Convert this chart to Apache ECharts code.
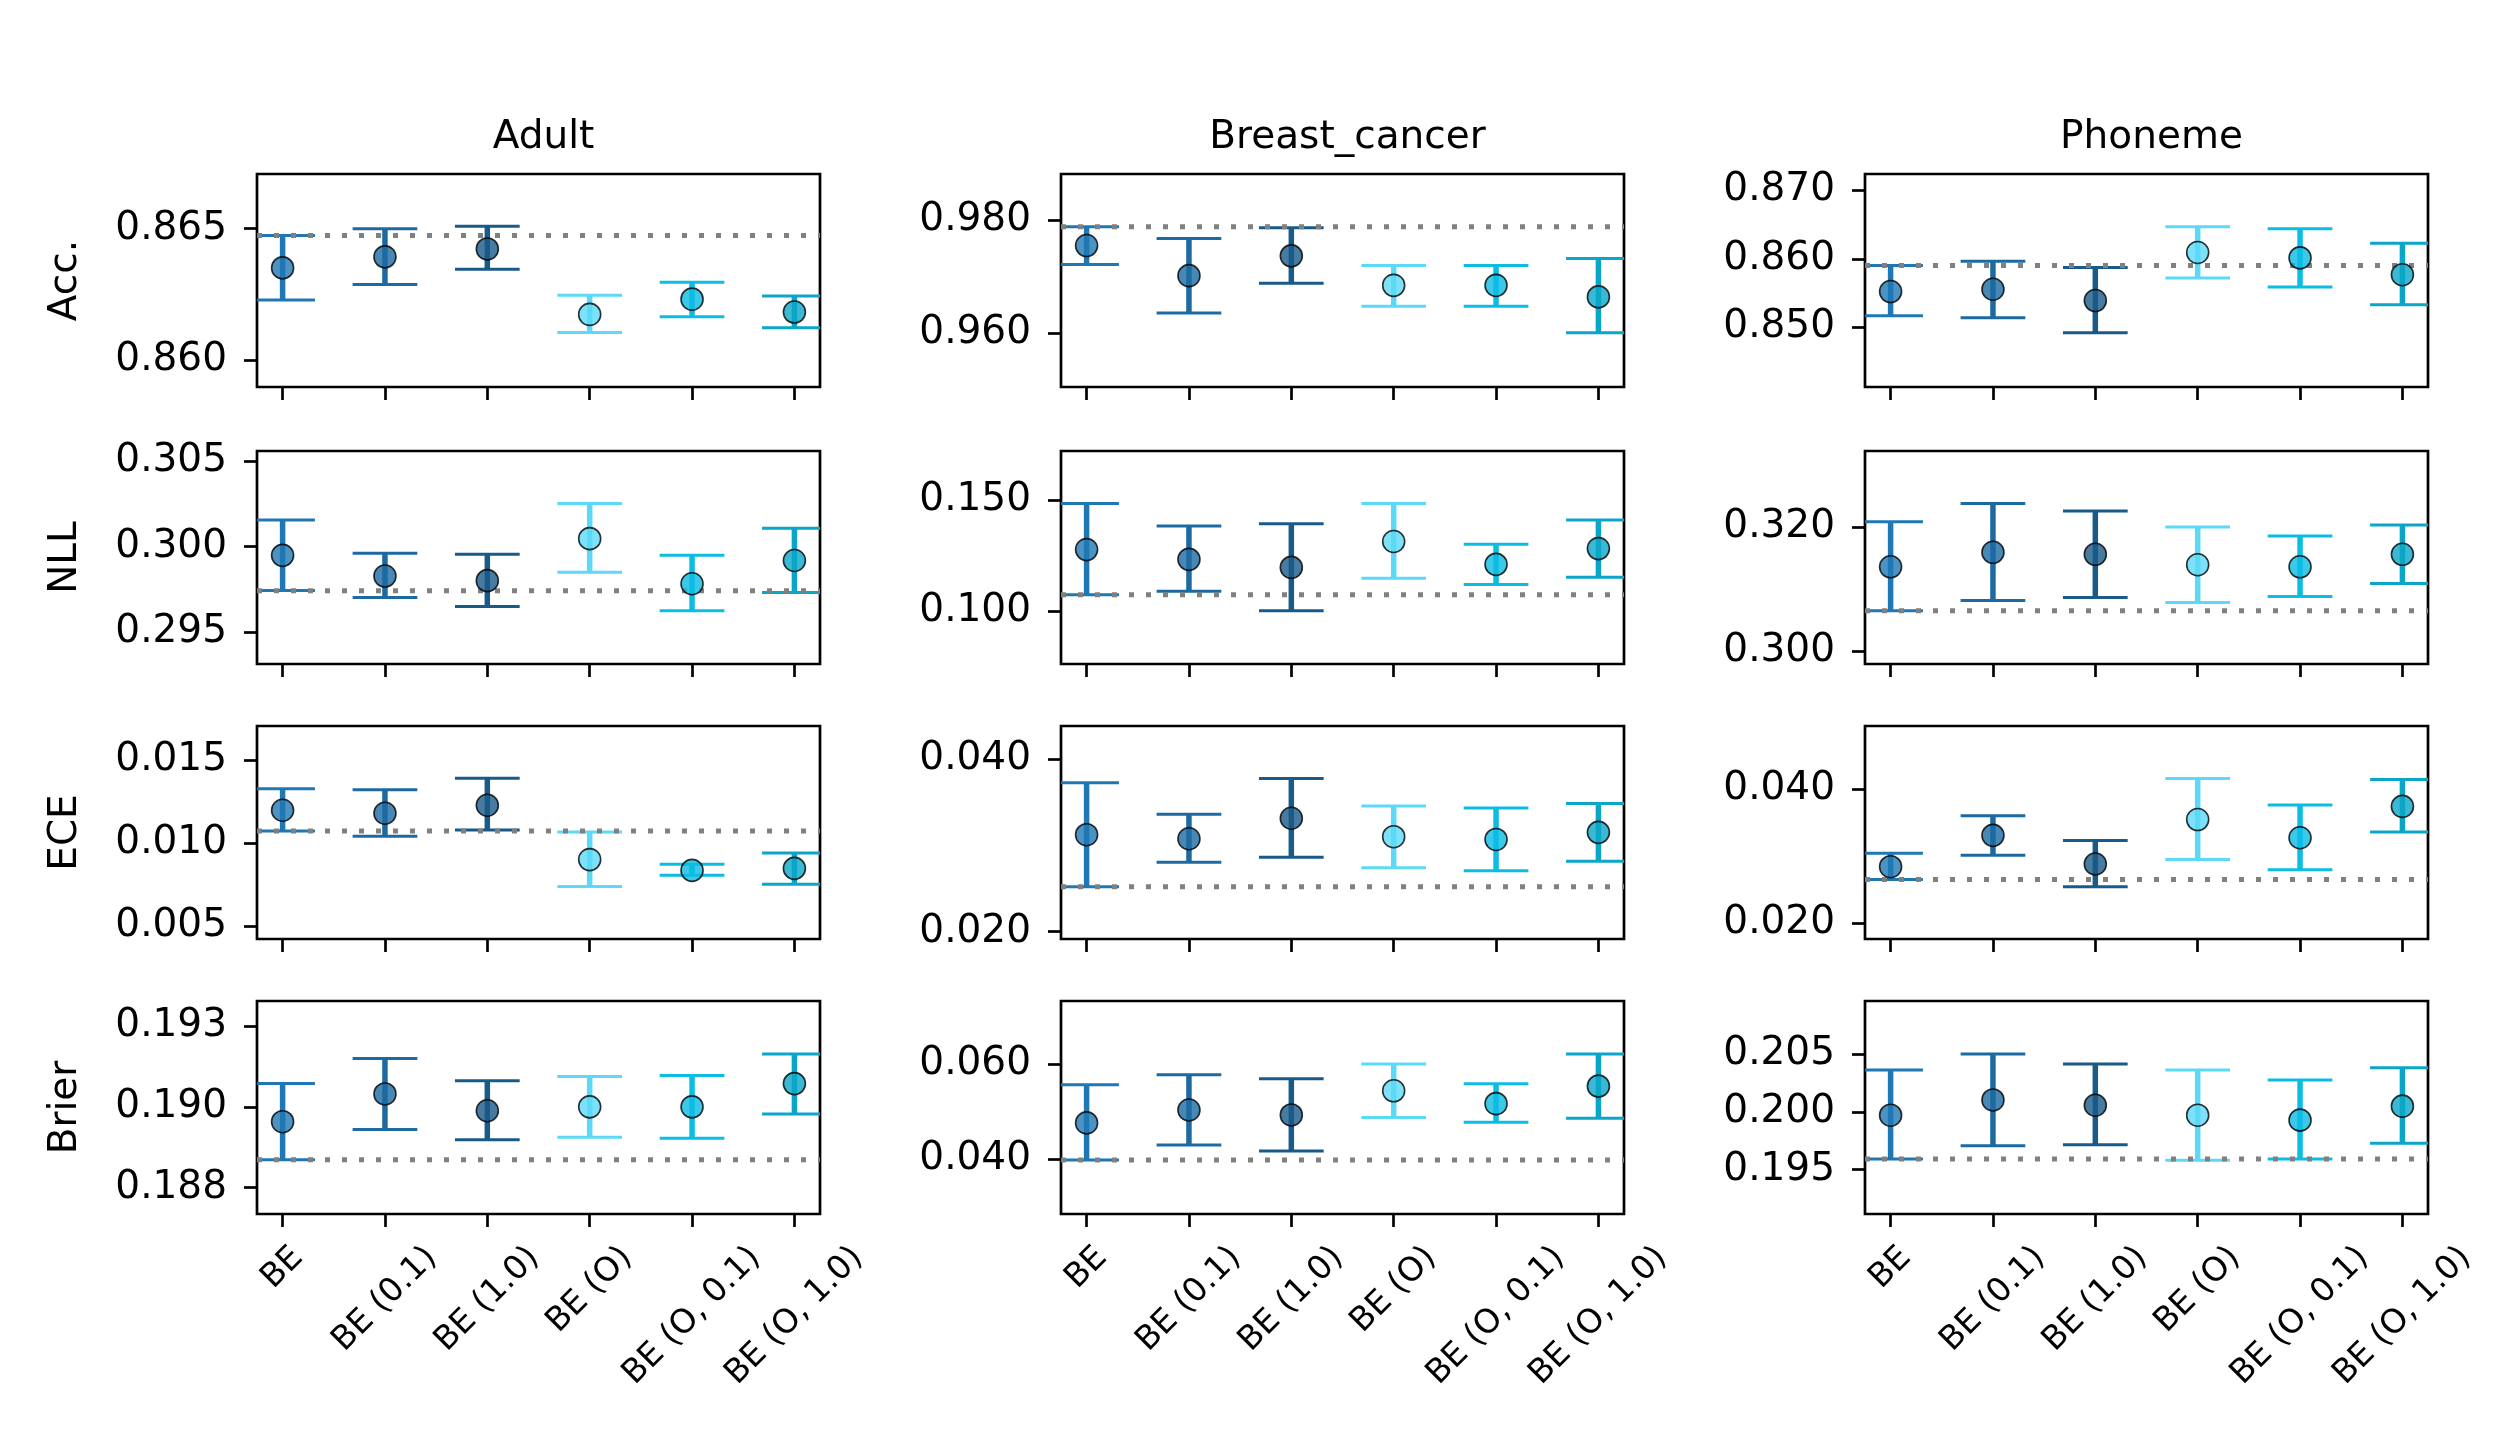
<!DOCTYPE html>
<html>
<head>
<meta charset="utf-8">
<script src="https://cdn.jsdelivr.net/npm/echarts@6/dist/echarts.min.js"></script>
<style>
html,body{margin:0;padding:0;background:#fff;}
#chart{width:2519px;height:1439px;}
</style>
</head>
<body>
<div id="chart"></div>
<script>
// ---------------- DATA ----------------
const categories = ['BE', 'BE (0.1)', 'BE (1.0)', 'BE (O)', 'BE (O, 0.1)', 'BE (O, 1.0)'];
const datasets = ['Adult', 'Breast_cancer', 'Phoneme'];
const metrics = ['Acc.', 'NLL', 'ECE', 'Brier'];

// Accuracy  [Adult, Breast_cancer, Phoneme]
const accMean = [
  [0.86351, 0.86393, 0.86423, 0.86174, 0.86232, 0.86183],
  [0.97554, 0.97021, 0.97372, 0.96850, 0.96850, 0.96645],
  [0.85522, 0.85556, 0.85391, 0.86092, 0.86014, 0.85768]
];
const accLow = [
  [0.86229, 0.86288, 0.86346, 0.86105, 0.86165, 0.86123],
  [0.97220, 0.96358, 0.96886, 0.96481, 0.96481, 0.96012],
  [0.85169, 0.85140, 0.84923, 0.85720, 0.85589, 0.85328]
];
const accHigh = [
  [0.86474, 0.86500, 0.86509, 0.86247, 0.86296, 0.86244],
  [0.97889, 0.97677, 0.97871, 0.97202, 0.97202, 0.97326],
  [0.85903, 0.85966, 0.85874, 0.86469, 0.86440, 0.86227]
];
const accBase = [0.86474, 0.97889, 0.85903];

// NLL
const nllMean = [
  [0.29949, 0.29828, 0.29801, 0.30047, 0.29783, 0.29919],
  [0.12773, 0.12333, 0.11970, 0.13136, 0.12106, 0.12818],
  [0.31360, 0.31593, 0.31561, 0.31393, 0.31360, 0.31561]
];
const nllLow = [
  [0.29744, 0.29702, 0.29649, 0.29850, 0.29625, 0.29732],
  [0.10742, 0.10894, 0.10015, 0.11485, 0.11197, 0.11530],
  [0.30650, 0.30818, 0.30867, 0.30786, 0.30883, 0.31089]
];
const nllHigh = [
  [0.30156, 0.29961, 0.29955, 0.30252, 0.29949, 0.30108],
  [0.14848, 0.13833, 0.13939, 0.14848, 0.13015, 0.14106],
  [0.32087, 0.32379, 0.32260, 0.32000, 0.31854, 0.32033]
];
const nllBase = [0.29742, 0.10742, 0.30650];

// ECE
const eceMean = [
  [0.01198, 0.01180, 0.01228, 0.00901, 0.00836, 0.00848],
  [0.03125, 0.03078, 0.03316, 0.03102, 0.03070, 0.03152],
  [0.02844, 0.03312, 0.02884, 0.03548, 0.03276, 0.03744]
];
const eceLow = [
  [0.01073, 0.01042, 0.01079, 0.00739, 0.00806, 0.00752],
  [0.02520, 0.02805, 0.02863, 0.02742, 0.02707, 0.02816],
  [0.02653, 0.03015, 0.02543, 0.02950, 0.02799, 0.03362]
];
const eceHigh = [
  [0.01327, 0.01321, 0.01390, 0.01067, 0.00873, 0.00941],
  [0.03727, 0.03363, 0.03777, 0.03457, 0.03434, 0.03488],
  [0.03045, 0.03603, 0.03236, 0.04161, 0.03764, 0.04146]
];
const eceBase = [0.01073, 0.02520, 0.02653];

// Brier
const brierMean = [
  [0.18954, 0.19040, 0.18988, 0.19000, 0.19000, 0.19072],
  [0.04766, 0.05038, 0.04934, 0.05442, 0.05171, 0.05540],
  [0.19971, 0.20103, 0.20057, 0.19971, 0.19928, 0.20049]
];
const brierLow = [
  [0.18836, 0.18930, 0.18898, 0.18906, 0.18903, 0.18978],
  [0.03986, 0.04300, 0.04174, 0.04878, 0.04780, 0.04864],
  [0.19592, 0.19707, 0.19715, 0.19580, 0.19592, 0.19727]
];
const brierHigh = [
  [0.19072, 0.19150, 0.19081, 0.19094, 0.19097, 0.19164],
  [0.05568, 0.05777, 0.05693, 0.06007, 0.05589, 0.06216],
  [0.20362, 0.20500, 0.20414, 0.20362, 0.20276, 0.20382]
];
const brierBase = [0.18836, 0.03986, 0.19592];

// Y tick values per metric / dataset
const accTicks = [[0.860, 0.865], [0.960, 0.980], [0.850, 0.860, 0.870]];
const nllTicks = [[0.295, 0.300, 0.305], [0.100, 0.150], [0.300, 0.320]];
const eceTicks = [[0.005, 0.010, 0.015], [0.020, 0.040], [0.020, 0.040]];
const brierTicks = [[0.1875, 0.1900, 0.1925], [0.040, 0.060], [0.195, 0.200, 0.205]];

// Y axis ranges
const accRange = [[0.85898, 0.86708], [0.9505, 0.98821], [0.8413, 0.87237]];
const nllRange = [[0.29313, 0.30560], [0.07621, 0.17212], [0.29794, 0.33225]];
const eceRange = [[0.00423, 0.01705], [0.01914, 0.04387], [0.01764, 0.04945]];
const brierRange = [[0.18668, 0.19328], [0.0285, 0.07331], [0.19115, 0.2096]];

// ---------------- STYLE / LAYOUT ----------------
const catColors = ['#1f77b4', '#1c6aa1', '#1a5a88', '#5bd9f7', '#0bbce3', '#0aa6c8'];
const FONT = 'DejaVu Sans';
const FS = 39;
const XFS = 33;
const colLeft = [257, 1061, 1865];
const colW = 563;
const rowTop = [174, 451, 726, 1001];
const rowH = 213;
const capHalf = 0.316;
const spineW = 2.7;

const meanArr = [accMean, nllMean, eceMean, brierMean];
const lowArr = [accLow, nllLow, eceLow, brierLow];
const highArr = [accHigh, nllHigh, eceHigh, brierHigh];
const baseArr = [accBase, nllBase, eceBase, brierBase];
const tickArr = [accTicks, nllTicks, eceTicks, brierTicks];
const rangeArr = [accRange, nllRange, eceRange, brierRange];

const measureCtx = document.createElement('canvas').getContext('2d');
measureCtx.font = XFS + 'px "' + FONT + '"';
function textWidth(t) { return measureCtx.measureText(t).width; }

function fmt(v) { return (Math.round(v * 1000 + 1e-6) / 1000).toFixed(3); }

const grids = [], xAxes = [], yAxes = [], series = [];
for (let r = 0; r < 4; r++) {
  for (let c = 0; c < 3; c++) {
    const g = r * 3 + c;
    grids.push({
      left: colLeft[c], top: rowTop[r], width: colW, height: rowH,
      show: true, borderColor: '#000', borderWidth: spineW, backgroundColor: 'transparent'
    });
    xAxes.push({
      type: 'value', gridIndex: g, min: -0.25, max: 5.25,
      axisLine: { show: false, onZero: false },
      splitLine: { show: false },
      axisTick: { show: true, customValues: [0, 1, 2, 3, 4, 5], length: 13, lineStyle: { color: '#000', width: spineW } },
      axisLabel: { show: false }
    });
    const ticks = tickArr[r][c];
    yAxes.push({
      type: 'value', gridIndex: g, min: rangeArr[r][c][0], max: rangeArr[r][c][1],
      axisLine: { show: false, onZero: false },
      splitLine: { show: false },
      axisTick: { show: true, customValues: ticks, length: 13, lineStyle: { color: '#000', width: spineW } },
      axisLabel: { show: true, customValues: ticks, formatter: fmt, fontSize: FS, fontFamily: FONT, color: '#000', margin: 30 },
      name: c === 0 ? metrics[r] : '',
      nameLocation: 'middle', nameRotate: 90, nameGap: 172,
      nameTextStyle: { fontSize: FS, fontFamily: FONT, color: '#000' }
    });
    const mean = meanArr[r][c], lo = lowArr[r][c], hi = highArr[r][c];
    // error bars
    series.push({
      type: 'custom', xAxisIndex: g, yAxisIndex: g, z: 2, silent: true, clip: false,
      encode: { x: 0, y: [1, 2] },
      data: categories.map((_, i) => [i, lo[i], hi[i]]),
      renderItem: function (params, api) {
        const i = api.value(0);
        const top = api.coord([i, api.value(2)]);
        const bot = api.coord([i, api.value(1)]);
        const cs = params.coordSys;
        const half = api.size([capHalf, 0])[0];
        const x0 = Math.max(cs.x, top[0] - half);
        const x1 = Math.min(cs.x + cs.width, top[0] + half);
        const color = catColors[i];
        return {
          type: 'group', children: [
            { type: 'line', shape: { x1: top[0], y1: top[1], x2: bot[0], y2: bot[1] }, style: { stroke: color, lineWidth: 5.5 } },
            { type: 'line', shape: { x1: x0, y1: top[1], x2: x1, y2: top[1] }, style: { stroke: color, lineWidth: 3 } },
            { type: 'line', shape: { x1: x0, y1: bot[1], x2: x1, y2: bot[1] }, style: { stroke: color, lineWidth: 3 } }
          ]
        };
      }
    });
    // baseline dotted line
    series.push({
      type: 'line', xAxisIndex: g, yAxisIndex: g, z: 3, silent: true,
      symbol: 'none',
      data: [[-0.25, baseArr[r][c]], [5.25, baseArr[r][c]]],
      lineStyle: { color: '#808080', width: 5, type: [5, 12] }
    });
    // means
    series.push({
      type: 'scatter', xAxisIndex: g, yAxisIndex: g, z: 4, silent: true,
      symbol: 'circle', symbolSize: 22,
      data: mean.map((m, i) => ({ value: [i, m], itemStyle: { color: catColors[i] } })),
      itemStyle: { borderColor: '#000', borderWidth: 1.6 }
    });
    // rotated x tick labels on bottom row
    if (r === 3) {
      series.push({
        type: 'custom', xAxisIndex: g, yAxisIndex: g, z: 5, silent: true, clip: false,
        data: categories.map((_, i) => [i, rangeArr[r][c][0]]),
        renderItem: function (params, api) {
          const i = api.value(0);
          const p = api.coord([i, api.value(1)]);
          const label = categories[i];
          const w = textWidth(label);
          const h = XFS * 1.17;
          const cy = p[1] + 13 + 12 + (w + h) / (2 * Math.SQRT2);
          return {
            type: 'text', x: p[0], y: cy, rotation: Math.PI / 4,
            style: { text: label, font: XFS + 'px "' + FONT + '"', fill: '#000', align: 'center', verticalAlign: 'middle' }
          };
        }
      });
    }
  }
}

const titles = datasets.map((d, c) => ({
  text: d, left: colLeft[c] + colW / 2, top: 113, textAlign: 'center',
  textStyle: { fontSize: FS, fontFamily: FONT, fontWeight: 'normal', color: '#000' }
}));

const chart = echarts.init(document.getElementById('chart'), null, { renderer: 'canvas' });
chart.setOption({
  animation: false,
  backgroundColor: '#fff',
  title: titles,
  grid: grids,
  xAxis: xAxes,
  yAxis: yAxes,
  series: series
});
</script>
</body>
</html>
